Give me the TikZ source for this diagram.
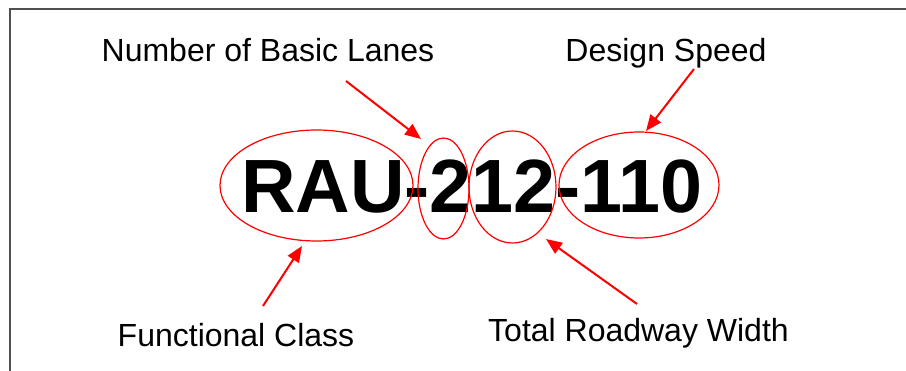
\documentclass[tikz,border=0pt]{standalone}
\usepackage{fontspec}
\setmainfont{Liberation Sans}
\usetikzlibrary{arrows.meta,shapes.geometric}
\definecolor{framegray}{HTML}{505050}
\begin{document}
\begin{tikzpicture}[x=1pt,y=-1pt,
  lbl/.style={anchor=base,inner sep=0pt,font=\fontsize{32}{38}\selectfont},
  ring/.style={ellipse,draw=red,line width=1.2pt,inner sep=0pt},
  pointer/.style={draw=red,line width=2pt,-{Triangle[length=16pt,width=13pt]}}]
\useasboundingbox (0,0) rectangle (906,371);
\draw[framegray,line width=2pt] (9.5,371) -- (9.5,9.5) -- (906,9.5);
% code
\node[anchor=base,inner sep=0pt,font=\fontsize{75.5}{80}\selectfont\bfseries] (code) at (472,213) {RAU-212-110};
% ellipses
\node[ring,minimum width=193pt,minimum height=111pt] (e1) at (316.5,185.5) {};
\node[ring,minimum width=51pt,minimum height=101pt] (e2) at (443.5,188.5) {};
\node[ring,minimum width=87pt,minimum height=112pt] (e3) at (512.5,187) {};
\node[ring,minimum width=160pt,minimum height=106pt] (e4) at (639,185) {};
% labels
\node[lbl] (lanes) at (268,62) {Number of Basic Lanes};
\node[lbl] (speed) at (666,62) {Design Speed};
\node[lbl] (func) at (236,347) {Functional Class};
\node[lbl] (width) at (638.5,342) {Total Roadway Width};
% arrow ends
\coordinate (s1) at (346,81);  \coordinate (t1) at (421,139);
\coordinate (s2) at (694,69);  \coordinate (t2) at (646,131);
\coordinate (s3) at (263,306); \coordinate (t3) at (302,246);
\coordinate (s4) at (637,304); \coordinate (t4) at (546,239);
\draw[pointer] (s1) -- (t1);
\draw[pointer] (s2) -- (t2);
\draw[pointer] (s3) -- (t3);
\draw[pointer] (s4) -- (t4);
\end{tikzpicture}
\end{document}
